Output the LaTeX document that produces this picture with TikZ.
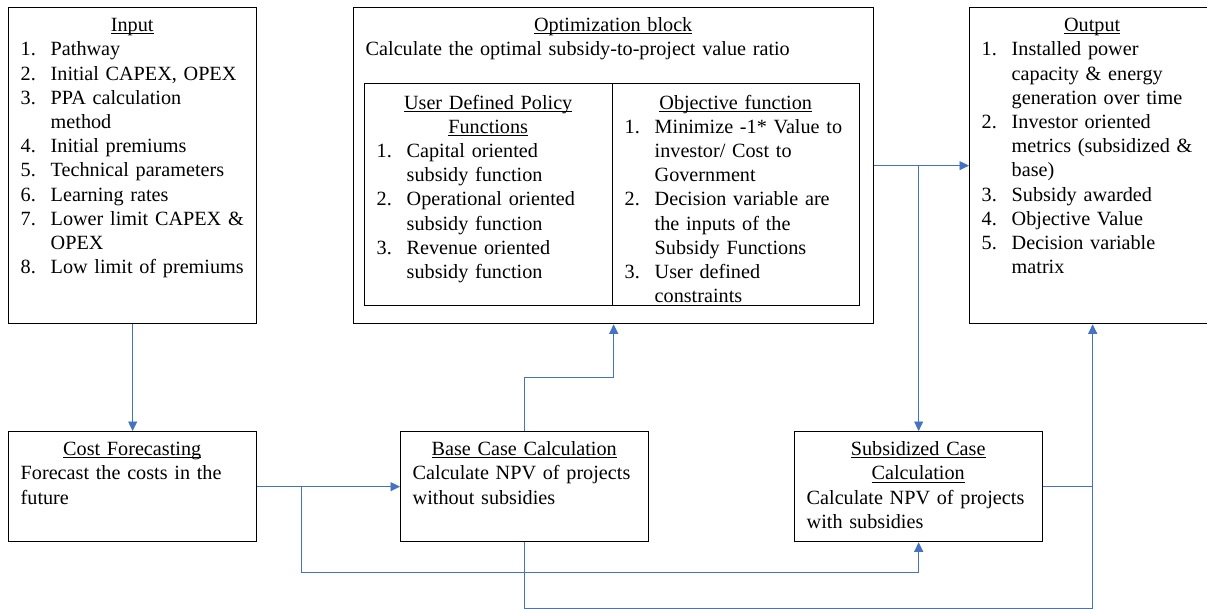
\documentclass[tikz,border=0pt]{standalone}
\usepackage{fontspec}
\setmainfont{Liberation Serif}
\usetikzlibrary{arrows.meta}
\definecolor{linkblue}{RGB}{68,114,196}
\hyphenpenalty=10000
\newcommand{\uhead}[1]{\setbox0\hbox{#1}\rlap{\rule[-2.6pt]{\wd0}{0.8pt}}\box0}
\newcommand{\itemline}[2]{\par\noindent\rightskip=0pt plus 1fil minus 60pt\hangindent=30pt\hangafter=1\makebox[30pt][l]{#1.}#2\par}
\tikzset{
    blockbox/.style={rectangle, draw, line width=1.3pt, anchor=north west, inner sep=0pt},
    boxtext/.style={anchor=north west, align=left, inner xsep=12.5pt, inner ysep=7.5pt},
    flow/.style={-{Triangle[length=9.5pt,width=9pt]}, line width=0.9pt, linkblue},
    link/.style={line width=0.9pt, linkblue}
}

\begin{document}
\begin{tikzpicture}[x=1pt, y=-1pt, font=\fontsize{20.2}{24.2}\selectfont]
    \useasboundingbox (0,0) rectangle (1207,608);
    \clip (0,0) rectangle (1207,608);

    % Top row
    \node[blockbox, minimum width=248pt, minimum height=316pt] (input) at (8,7) {};
    \node[boxtext, text width=223pt] (input-txt) at (input.north west) {%
        \centerline{\strut\uhead{Input}}
        \itemline{1}{Pathway}
        \itemline{2}{Initial CAPEX, OPEX}
        \itemline{3}{PPA calculation\newline method}
        \itemline{4}{Initial premiums}
        \itemline{5}{Technical parameters}
        \itemline{6}{Learning rates}
        \itemline{7}{Lower limit CAPEX \&\newline OPEX}
        \itemline{8}{Low limit of premiums}};

    \node[blockbox, minimum width=520pt, minimum height=316pt] (opt) at (353,7) {};
    \node[boxtext, text width=495pt] (opt-txt) at (opt.north west) {%
        \centerline{\strut\uhead{Optimization block}}
        \noindent Calculate the optimal subsidy-to-project value ratio\par};

    \node[blockbox, minimum width=248pt, minimum height=222pt] (policy) at (364,83) {};
    \node[boxtext, text width=223pt, inner ysep=9pt] (policy-txt) at (policy.north west) {%
        \centerline{\strut\uhead{User Defined Policy}}
        \centerline{\uhead{Functions}}
        \itemline{1}{Capital oriented\newline subsidy function}
        \itemline{2}{Operational oriented\newline subsidy function}
        \itemline{3}{Revenue oriented\newline subsidy function}};

    \node[blockbox, minimum width=247pt, minimum height=222pt] (objective) at (612,83) {};
    \node[boxtext, text width=222pt, inner ysep=9pt] (objective-txt) at (objective.north west) {%
        \centerline{\strut\uhead{Objective function}}
        \itemline{1}{Minimize -1* Value to\newline investor/ Cost to\newline Government}
        \itemline{2}{Decision variable are\newline the inputs of the\newline Subsidy Functions}
        \itemline{3}{User defined\newline constraints}};

    \node[blockbox, minimum width=246pt, minimum height=316pt] (output) at (969,7) {};
    \node[boxtext, text width=221pt] (output-txt) at (output.north west) {%
        \centerline{\strut\uhead{Output}}
        \itemline{1}{Installed power\newline capacity \& energy\newline generation over time}
        \itemline{2}{Investor oriented\newline metrics (subsidized \&\newline base)}
        \itemline{3}{Subsidy awarded}
        \itemline{4}{Objective Value}
        \itemline{5}{Decision variable\newline matrix}};

    % Bottom row
    \node[blockbox, minimum width=248pt, minimum height=110pt] (cost) at (8,431) {};
    \node[boxtext, text width=223pt] (cost-txt) at (cost.north west) {%
        \centerline{\strut\uhead{Cost Forecasting}}
        \noindent Forecast the costs in the\newline future\par};

    \node[blockbox, minimum width=248pt, minimum height=110pt] (base) at (400,431) {};
    \node[boxtext, text width=223pt] (base-txt) at (base.north west) {%
        \centerline{\strut\uhead{Base Case Calculation}}
        \noindent Calculate NPV of projects\newline without subsidies\par};

    \node[blockbox, minimum width=248pt, minimum height=110pt] (subs) at (794,431) {};
    \node[boxtext, text width=223pt] (subs-txt) at (subs.north west) {%
        \centerline{\strut\uhead{Subsidized Case}}
        \centerline{\uhead{Calculation}}
        \noindent Calculate NPV of projects\newline with subsidies\par};

    % Connections
    \draw[flow] (input.south) -- (cost.north);
    \draw[flow] (cost.east) -- (base.west);
    \coordinate (cfork) at ([xshift=44pt]cost.east);
    \draw[flow] (cfork) -- ++(0,86) -| (subs.south);
    \draw[flow] (base.north) -- ++(0,-54) -| (opt.south);
    \draw[flow] (base.south) -- ++(0,66) -| (output.south);
    \draw[link] (subs.east) -- (subs.east -| output.south);
    \draw[flow] (opt.east) -- (output.west);
    \draw[flow] (opt.east -| subs.north) -- (subs.north);
\end{tikzpicture}
\end{document}
